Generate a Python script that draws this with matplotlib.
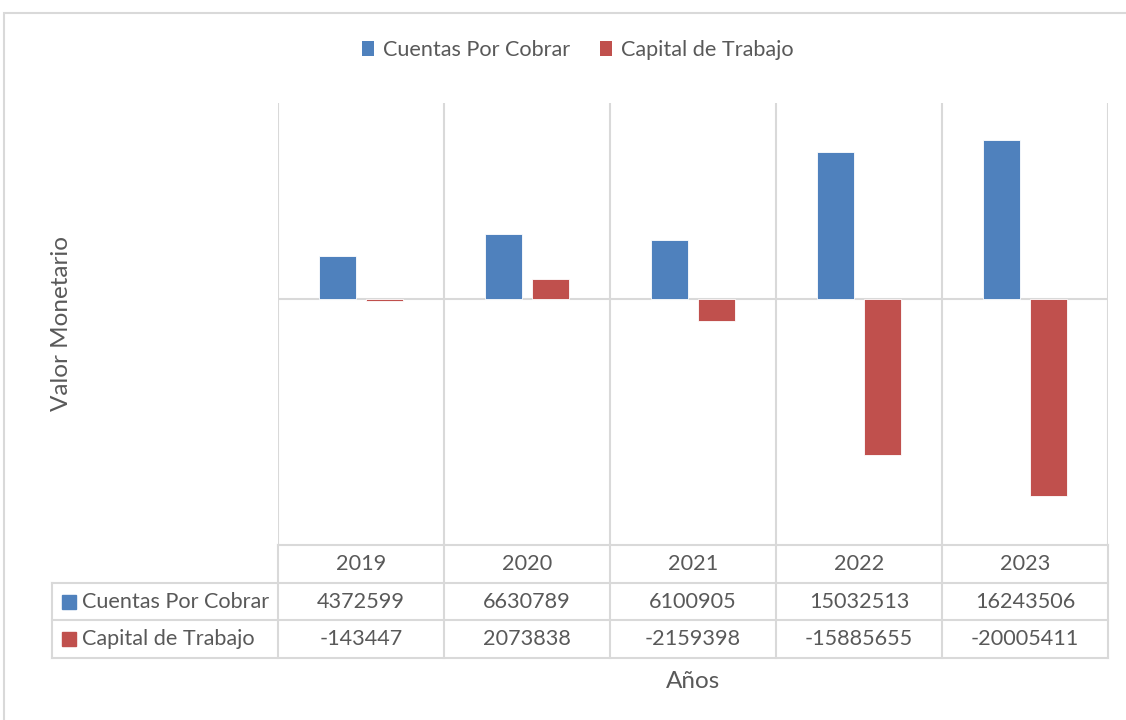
import matplotlib
matplotlib.use("Agg")
import matplotlib.pyplot as plt
from matplotlib.patches import Patch, Rectangle
import numpy as np

plt.rcParams['font.family'] = ['Lato', 'DejaVu Sans']

years = ['2019', '2020', '2021', '2022', '2023']
series_names = ['Cuentas Por Cobrar', 'Capital de Trabajo']
cuentas_por_cobrar = [4372599, 6630789, 6100905, 15032513, 16243506]
capital_de_trabajo = [-143447, 2073838, -2159398, -15885655, -20005411]
colors = ['#4F81BD', '#C0504D']

GRID = '#D9D9D9'
TXT = '#595959'
FS = 15.6
FS_TITLE = 17.5

W, H = 1126, 720
fig = plt.figure(figsize=(W / 100, H / 100), dpi=100)

def fx(px):
    return px / W

def fy(py):
    return 1 - py / H

# outer chart border
fig.patches.append(Rectangle((fx(4), fy(1000)), fx(1200), fy(13) - fy(1000),
                             transform=fig.transFigure, fill=False,
                             edgecolor=GRID, lw=1.5))

# plot area
left, right, top, bottom = 278, 1108, 103, 545
ax = fig.add_axes([fx(left), fy(bottom), fx(right - left), fy(top) - fy(bottom)])
n = len(years)
x = np.arange(n) + 0.5
bw = 0.225
off = 0.142
ax.bar(x - off, cuentas_por_cobrar, bw, color=colors[0], edgecolor='white', lw=0.6, zorder=3)
ax.bar(x + off, capital_de_trabajo, bw, color=colors[1], edgecolor='white', lw=0.6, zorder=3)
ax.set_xlim(0, n)
ax.set_ylim(-25e6, 20e6)
for k in range(n + 1):
    ax.axvline(k, color=GRID, lw=1.5, zorder=1)
ax.axhline(0, color=GRID, lw=1.5, zorder=2)
ax.set_xticks([])
ax.set_yticks([])
for s in ax.spines.values():
    s.set_visible(False)

# data table below the plot area
tleft, tbottom = 52, 658
unit = (right - left) / n
lab_w = (left - tleft) / unit
tax = fig.add_axes([fx(tleft), fy(tbottom), fx(right - tleft), fy(bottom) - fy(tbottom)])
tax.set_xlim(-lab_w, n)
tax.set_ylim(0, 3)
tax.axis('off')
# horizontal lines
tax.plot([0, n], [3, 3], color=GRID, lw=1.5, clip_on=False)
for yy in [2, 1, 0]:
    tax.plot([-lab_w, n], [yy, yy], color=GRID, lw=1.5, clip_on=False)
# vertical lines
tax.plot([-lab_w, -lab_w], [0, 2], color=GRID, lw=1.5, clip_on=False)
for k in range(n + 1):
    tax.plot([k, k], [0, 3], color=GRID, lw=1.5, clip_on=False)

for i, yr in enumerate(years):
    tax.text(i + 0.5, 2.5, yr, ha='center', va='center', fontsize=FS, color=TXT)
rows = [cuentas_por_cobrar, capital_de_trabajo]
for r, (name, vals, c) in enumerate(zip(series_names, rows, colors)):
    yc = 1.5 - r
    tax.plot([-lab_w + 0.1], [yc], marker='s', ms=10, color=c, clip_on=False)
    tax.text(-lab_w + 0.18, yc, name, ha='left', va='center', fontsize=FS, color=TXT)
    for i, v in enumerate(vals):
        tax.text(i + 0.5, yc, str(v), ha='center', va='center', fontsize=FS, color=TXT)

# axis titles
fig.text(fx((left + right) / 2), fy(682), 'Años', ha='center', va='center',
         fontsize=FS_TITLE, color=TXT)
fig.text(fx(62), fy((top + bottom) / 2), 'Valor Monetario', ha='center', va='center',
         rotation=90, fontsize=FS_TITLE, color=TXT)

# legend
handles = [Patch(facecolor=c, edgecolor='none') for c in colors]
fig.legend(handles, series_names, loc='center', bbox_to_anchor=(fx(578), fy(50)),
           ncol=2, frameon=False, fontsize=FS, handlelength=0.55, handleheight=0.75,
           handletextpad=0.4, columnspacing=1.4, labelcolor=TXT)

fig.savefig('out.png', dpi=100)
